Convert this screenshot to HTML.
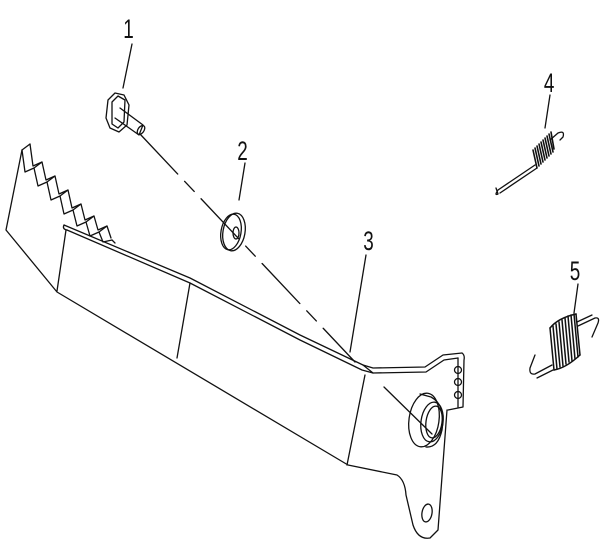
<!DOCTYPE html>
<html><head><style>
html,body{margin:0;padding:0;background:#fff;}
svg{display:block;}
text{font-family:"Liberation Sans",sans-serif;font-size:27px;fill:#111;}
</style></head><body>
<svg width="603" height="553" viewBox="0 0 603 553" xmlns="http://www.w3.org/2000/svg">
<g fill="none" stroke="#111" stroke-width="1.3" stroke-linejoin="round" stroke-linecap="round">
<!-- labels leaders -->
<line x1="132" y1="44" x2="123" y2="88"/>
<line x1="245" y1="163" x2="239" y2="200"/>
<line x1="366" y1="255" x2="350" y2="352"/>
<line x1="550" y1="95" x2="545" y2="128"/>
<line x1="578" y1="284" x2="574" y2="313"/>
<!-- dashed axis -->
<line x1="140" y1="134" x2="355" y2="362" stroke-dasharray="55,10,14,10"/>
<line x1="384" y1="387" x2="432" y2="434"/>
<!-- bolt -->
<path d="M108,100 L115,93 L124,95 L129,105 L127,125 L119,132 L110,128 L106,118 Z"/>
<path d="M112,102 L118,96 L125,100 L124,122 L118,128 L112,124 Z"/>
<path d="M120,108 L143,125 L139,135 L115,118"/>
<ellipse cx="141" cy="130" rx="3" ry="5" transform="rotate(35 141 130)"/>
<!-- washer -->
<ellipse cx="234" cy="232" rx="11" ry="19" transform="rotate(10 234 232)"/>
<ellipse cx="231" cy="232" rx="10" ry="18" transform="rotate(10 231 232)"/>
<ellipse cx="236" cy="233" rx="3" ry="6"/>
<!-- pedal outline -->
<path d="M22,150 L6,230 L57,292 L348,465 L397,475 Q405,480 406,495 L413,525 Q418,540 430,538 L438,530 L447,410"/>
<!-- teeth front -->
<path d="M22,150 L25,172 L34,168 L38,186 L47,182 L51,200 L60,196 L64,214 L73,210 L77,226 L86,222 L90,236 L99,232 L103,242 L112,240"/>
<!-- teeth back -->
<path d="M30,144 L33,166 L42,162 L46,180 L55,176 L59,194 L68,190 L72,208 L81,204 L85,220 L94,216 L98,230 L107,226 L111,238"/>
<path d="M22,150 L30,144 M34,168 L42,162 M47,182 L55,176 M60,196 L68,190 M73,210 L81,204 M86,222 L94,216 M99,232 L107,226 M112,240 L115,243"/>
<!-- top edge double line -->
<path d="M64,225 L190,278 L300,335 L363,365 L373,368 L425,367 L443,355 L462,353"/>
<path d="M67,230 L190,283 L300,340 L362,370 L373,373 L426,372 L444,360 L458,358"/>
<path d="M64,225 Q62,229 67,230"/>
<path d="M462,353 Q465,355 464,360 L463,407 L448,410"/>
<path d="M458,358 L458,407"/>
<!-- verticals -->
<line x1="66" y1="230" x2="57" y2="291"/>
<line x1="190" y1="283" x2="177" y2="358"/>
<line x1="365" y1="375" x2="347" y2="465"/>
<line x1="363" y1="365" x2="373" y2="373"/>
<!-- bushing -->
<ellipse cx="424" cy="420" rx="15" ry="27" transform="rotate(8 424 420)"/>
<path d="M420,394 L431,397 Q446,405 442,430 Q438,448 426,447"/>
<ellipse cx="432" cy="422" rx="11" ry="20" transform="rotate(8 432 422)"/>
<ellipse cx="434" cy="422" rx="8" ry="16" transform="rotate(8 434 422)"/>
<!-- holes -->
<circle cx="458" cy="370" r="3.5"/><circle cx="458" cy="382" r="3.5"/><circle cx="458" cy="395" r="3.5"/>
<ellipse cx="427" cy="513" rx="5" ry="9" transform="rotate(10 427 513)"/>
<!-- spring 4 -->
<path d="M535,165 L498,190 Q494,196 498,194 L496,188"/>
<path d="M537,168 L500,193"/>
<path d="M550,140 L558,133 Q565,130 563,137 L560,140"/>
<g stroke-width="1.6">
<path d="M533,150 L537,168 M535,148 L539,166 M537,146 L541,164 M539,144 L543,162 M541,142 L545,160 M543,140 L547,158 M545,138 L549,156 M547,136 L551,154 M549,134 L553,152 M551,132 L554,149"/>
</g>
<!-- spring 5 -->
<path d="M552,365 L535,374 Q529,375 530,368 L535,355"/>
<path d="M553,370 L537,378"/>
<path d="M578,326 L595,318 Q600,317 598,323 L592,337"/>
<path d="M577,322 L592,315"/>
<g stroke-width="1.5">
<path d="M550,328 L554,370 M553,326 L557,369 M556,324 L560,367 M559,322 L563,366 M562,320 L566,364 M565,318 L569,362 M568,316 L572,361 M571,315 L575,359 M574,314 L578,357 M576,314 L580,355"/>
<path d="M550,328 Q558,318 576,314 M554,370 Q566,368 580,355"/>
</g>
</g>
<g transform="scale(0.7 1)">
<text x="176" y="38">1</text>
<text x="339" y="160">2</text>
<text x="519" y="250">3</text>
<text x="777" y="92">4</text>
<text x="814" y="280">5</text>
</g>
</svg>
</body></html>
